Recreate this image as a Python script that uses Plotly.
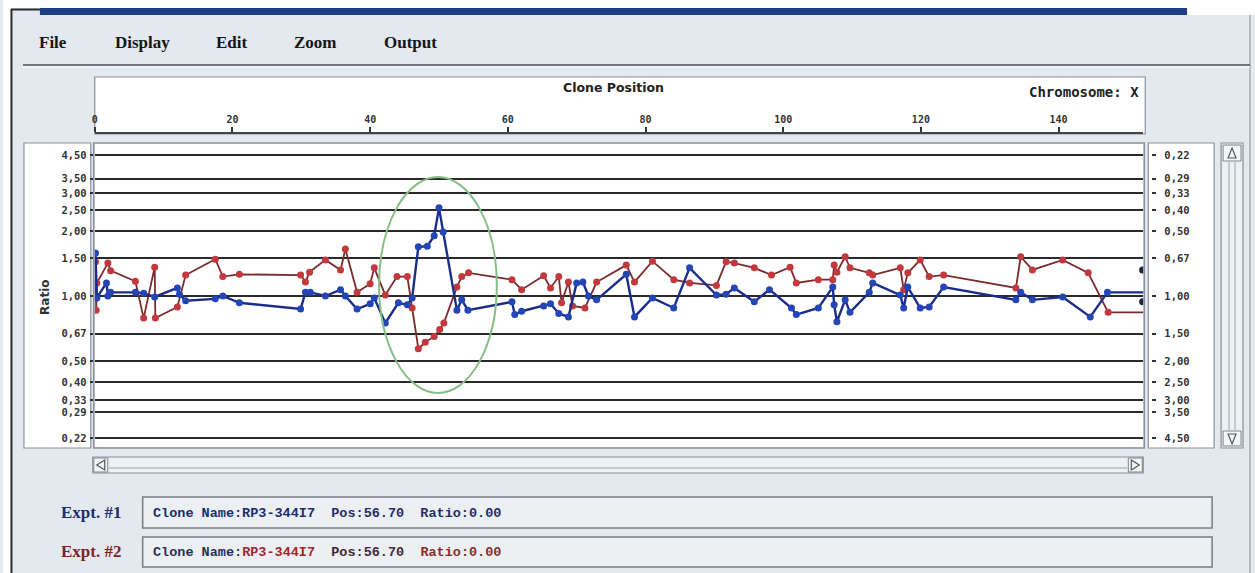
import plotly.graph_objects as go

W, H = 1255, 573


def fx(px):
    return px / W


def fy(py):
    return 1 - py / H


# ---------------- data ----------------
pos_expt1 = [0.1, 0.3, 1.7, 1.9, 2.3, 5.9, 7.1, 8.7, 12.0, 12.3,
             13.2, 17.5, 18.6, 21.0, 29.9, 30.6, 31.3, 33.5, 35.7, 36.4,
             38.1, 40.0, 40.6, 42.2, 44.1, 45.4, 46.1, 47.0, 48.3, 49.3,
             50.0, 50.6, 52.6, 53.3, 54.2, 60.6, 61.0, 62.0, 65.2, 66.2,
             67.4, 68.8, 70.0, 70.9, 71.7, 72.9, 77.2, 78.4, 81.0, 84.1,
             86.4, 90.3, 91.7, 92.9, 95.8, 98.0, 101.2, 101.9, 105.1, 107.2,
             107.4, 107.8, 109.0, 109.7, 112.5, 113.0, 117.0, 117.5, 118.1, 119.9,
             121.2, 123.3, 133.8, 134.5, 136.2, 140.6, 144.6, 147.1, 153.3]
ratio_expt1 = [1.58, 0.98, 1.15, 1.00, 1.04, 1.04, 1.03, 0.99, 1.09, 1.02,
               0.95, 0.97, 1.00, 0.93, 0.87, 1.04, 1.04, 1.00, 1.07, 1.00,
               0.87, 0.92, 0.98, 0.75, 0.93, 0.91, 0.98, 1.69, 1.70, 1.90,
               2.56, 1.98, 0.86, 0.96, 0.86, 0.94, 0.82, 0.85, 0.90, 0.92,
               0.83, 0.80, 1.15, 1.16, 1.00, 0.96, 1.26, 0.80, 0.98, 0.88,
               1.35, 1.01, 1.02, 1.09, 0.94, 1.07, 0.88, 0.82, 0.88, 1.10,
               0.91, 0.76, 0.96, 0.84, 1.04, 1.15, 1.01, 0.88, 1.10, 0.88,
               0.89, 1.10, 0.96, 1.04, 0.96, 0.99, 0.80, 1.04, 1.04]

pos_expt2 = [0.1, 0.2, 0.3, 1.9, 2.3, 5.9, 7.1, 8.7, 8.8, 12.0,
             13.2, 17.5, 18.6, 21.0, 29.9, 30.6, 31.2, 33.5, 35.7, 36.4,
             38.1, 40.0, 40.6, 42.2, 43.9, 45.4, 46.1, 47.0, 48.0, 49.3,
             50.1, 50.7, 52.6, 53.3, 54.3, 60.6, 62.0, 65.2, 66.2, 67.4,
             67.8, 68.8, 69.4, 71.2, 72.9, 77.2, 78.4, 81.0, 84.1, 86.4,
             90.3, 91.7, 92.9, 95.8, 98.3, 101.0, 101.9, 105.1, 107.2, 107.4,
             107.8, 109.0, 109.7, 112.5, 113.0, 117.0, 117.5, 118.1, 119.9, 121.2,
             123.3, 133.8, 134.5, 136.2, 140.6, 144.3, 147.2, 153.3]
ratio_expt2 = [1.44, 0.86, 1.15, 1.42, 1.31, 1.17, 0.79, 1.36, 0.79, 0.89,
               1.25, 1.48, 1.23, 1.26, 1.25, 1.16, 1.29, 1.47, 1.32, 1.65,
               1.04, 1.14, 1.35, 1.01, 1.23, 1.23, 0.88, 0.57, 0.61, 0.65,
               0.70, 0.75, 1.10, 1.23, 1.28, 1.19, 1.07, 1.24, 1.09, 1.23,
               0.93, 1.16, 0.90, 0.88, 1.16, 1.39, 1.16, 1.45, 1.19, 1.15,
               1.12, 1.44, 1.42, 1.35, 1.25, 1.36, 1.15, 1.19, 1.19, 1.39,
               1.29, 1.52, 1.35, 1.28, 1.25, 1.35, 1.07, 1.28, 1.47, 1.23,
               1.25, 1.09, 1.52, 1.32, 1.47, 1.28, 0.84, 0.84]

edge_pos = [152.2, 152.2]
edge_ratio = [1.32, 0.94]

ratio_ticks = [0.22, 0.29, 0.33, 0.40, 0.50, 0.67, 1.00, 1.50, 2.00, 2.50, 3.00, 3.50, 4.50]
ratio_labels = ["0,22", "0,29", "0,33", "0,40", "0,50", "0,67", "1,00",
                "1,50", "2,00", "2,50", "3,00", "3,50", "4,50"]
inverse_labels = list(reversed(ratio_labels))
pos_ticks = [0, 20, 40, 60, 80, 100, 120, 140]
pos_labels = ["0", "20", "40", "60", "80", "100", "120", "140"]
menu_items = ["File", "Display", "Edit", "Zoom", "Output"]
menu_x = [50, 140, 230, 313, 408]

X_RANGE = [0, 152.3]
Y_RANGE = [-0.6993, 0.7086]

BLUE_M = "#2445b5"
BLUE_L = "#1b2d8a"
RED_M = "#c2393d"
RED_L = "#7a2a2c"
UI_BG = "#e4e9ef"
BORDER = "#8a9099"

fig = go.Figure()

fig.add_trace(go.Scatter(
    x=pos_expt2, y=ratio_expt2, mode="lines+markers", name="Expt. #2",
    line=dict(color=RED_L, width=1.8),
    marker=dict(color=RED_M, size=7, symbol="circle"),
    hoverinfo="x+y"))
fig.add_trace(go.Scatter(
    x=pos_expt1, y=ratio_expt1, mode="lines+markers", name="Expt. #1",
    line=dict(color=BLUE_L, width=2.4),
    marker=dict(color=BLUE_M, size=7, symbol="circle"),
    hoverinfo="x+y"))
fig.add_trace(go.Scatter(
    x=edge_pos, y=edge_ratio, mode="markers", name="edge",
    marker=dict(color="#20243f", size=7), hoverinfo="skip"))

# invisible carriers for the secondary axes
fig.add_trace(go.Scatter(x=[pos_ticks[0], pos_ticks[-1]], y=[1, 1], xaxis="x2", yaxis="y",
                         mode="markers", marker=dict(opacity=0), hoverinfo="skip"))
fig.add_trace(go.Scatter(x=[pos_ticks[0], pos_ticks[-1]], y=[1, 1], xaxis="x", yaxis="y2",
                         mode="markers", marker=dict(opacity=0), hoverinfo="skip"))

tick_font = dict(family="DejaVu Sans Mono", size=10.5, color="#333333", weight="bold")

fig.update_layout(
    width=W, height=H, autosize=False,
    margin=dict(l=0, r=0, t=0, b=0),
    paper_bgcolor=UI_BG, plot_bgcolor="white",
    showlegend=False,
    xaxis=dict(domain=[fx(92), fx(1143)], range=X_RANGE, showticklabels=False,
               showgrid=False, zeroline=False, showline=False, ticks="", anchor="y"),
    xaxis2=dict(domain=[fx(92), fx(1143)], range=X_RANGE, overlaying="x", anchor="free",
                position=fy(133), side="top", tickvals=pos_ticks, ticktext=pos_labels,
                ticks="outside", ticklen=5, tickwidth=1.5, tickcolor="#333",
                showline=True, linecolor="#444", linewidth=1.5,
                showgrid=False, zeroline=False, tickfont=dict(tick_font, size=10)),
    yaxis=dict(domain=[fy(447), fy(143)], type="log", range=Y_RANGE,
               tickvals=ratio_ticks, ticktext=ratio_labels, ticks="outside",
               ticklen=4, tickwidth=1.5, tickcolor="#333",
               showgrid=True, gridcolor="#2a2a2a", gridwidth=1.6,
               zeroline=False, showline=False, tickfont=tick_font, anchor="x",
               ticklabelstandoff=1),
    yaxis2=dict(overlaying="y", side="right", anchor="free", position=fx(1151),
                type="log", range=Y_RANGE, tickvals=ratio_ticks, ticktext=inverse_labels,
                ticks="outside", ticklen=4, tickwidth=1.5, tickcolor="#333",
                showgrid=False, zeroline=False, showline=False, tickfont=tick_font,
                ticklabelstandoff=6),
)

shapes = []


def rect(x0, y0, x1, y1, fill=None, line=BORDER, width=1.2, layer="below"):
    shapes.append(dict(type="rect", xref="paper", yref="paper",
                       x0=fx(x0), x1=fx(x1), y0=fy(y1), y1=fy(y0),
                       fillcolor=fill if fill else "rgba(0,0,0,0)",
                       line=dict(color=line if line else "rgba(0,0,0,0)", width=width),
                       layer=layer))


def hline(x0, x1, y, color, width=1.5, layer="below"):
    shapes.append(dict(type="line", xref="paper", yref="paper",
                       x0=fx(x0), x1=fx(x1), y0=fy(y), y1=fy(y),
                       line=dict(color=color, width=width), layer=layer))


def vline(x, y0, y1, color, width=1.5, layer="below"):
    shapes.append(dict(type="line", xref="paper", yref="paper",
                       x0=fx(x), x1=fx(x), y0=fy(y0), y1=fy(y1),
                       line=dict(color=color, width=width), layer=layer))


def tri(points, color="#555"):
    p = "M " + " L ".join(f"{fx(a):.5f},{fy(b):.5f}" for a, b in points) + " Z"
    shapes.append(dict(type="path", xref="paper", yref="paper", path=p,
                       fillcolor="rgba(0,0,0,0)", line=dict(color=color, width=1.2),
                       layer="above"))


# outer white margins & frame
rect(0, 0, 1255, 8, fill="white", line=None, width=0)
rect(0, 0, 8, 573, fill="white", line=None, width=0)
vline(8.5, 9, 573, "#2b2b2b", 2)
hline(8, 37, 9.5, "#2b2b2b", 2)
rect(37, 8, 1187, 15, fill="#1f3d86", line=None, width=0)
rect(1187, 8, 1255, 15, fill="white", line=None, width=0)
vline(1250, 15, 573, "#a6adb5", 1.5)

# menu separator
hline(20, 1250, 65, "#4a4f55", 1.5)
hline(20, 1250, 67, "#ffffff", 1)

# top axis panel
rect(92, 77, 1145, 134, fill="white", line=BORDER, width=1.2)
# left label panel
rect(21, 143, 88, 448, fill="white", line=BORDER, width=1.2)
# right label panel
rect(1148, 143, 1214, 448, fill="white", line=BORDER, width=1.2)
# plot frame
rect(91, 143, 1144, 448, fill=None, line=BORDER, width=1.6, layer="above")

# vertical scrollbar
rect(1221, 143, 1243, 448, fill="#eef1f4", line=BORDER, width=1.2)
vline(1229, 162, 430, "#9aa1a9", 1)
vline(1235, 162, 430, "#9aa1a9", 1)
rect(1223, 145, 1241, 161, fill="#f4f6f8", line="#7d848c", width=1)
rect(1223, 431, 1241, 446, fill="#f4f6f8", line="#7d848c", width=1)
tri([(1228, 158), (1232, 148), (1236, 158)])
tri([(1228, 434), (1236, 434), (1232, 444)])

# horizontal scrollbar
rect(90, 457, 1143, 473, fill="#eef1f4", line=BORDER, width=1.2)
hline(106, 1127, 468, "#9aa1a9", 1)
rect(91, 458, 105, 472, fill="#f4f6f8", line="#7d848c", width=1)
rect(1128, 458, 1142, 472, fill="#f4f6f8", line="#7d848c", width=1)
tri([(102, 460), (94, 465), (102, 470)])
tri([(1131, 460), (1139, 465), (1131, 470)])

# text fields
rect(140, 497, 1212, 528, fill="#edf0f3", line="#767c84", width=1.5)
rect(140, 537, 1212, 567, fill="#edf0f3", line="#767c84", width=1.5)

# highlight ellipse
shapes.append(dict(type="circle", xref="paper", yref="paper",
                   x0=fx(377), x1=fx(495), y0=fy(393), y1=fy(177),
                   line=dict(color="#86bf86", width=2), layer="above"))

fig.update_layout(shapes=shapes)

ann = []
for name, mx in zip(menu_items, menu_x):
    ann.append(dict(text=name, x=fx(mx), y=fy(43), xref="paper", yref="paper",
                    showarrow=False, xanchor="center", yanchor="middle",
                    font=dict(family="Liberation Serif", size=17, color="#151515", weight="bold")))

ann.append(dict(text="Clone Position", x=fx(612), y=fy(88), xref="paper", yref="paper",
                showarrow=False, xanchor="center", yanchor="middle",
                font=dict(family="DejaVu Sans", size=12.5, color="#222", weight="bold")))
ann.append(dict(text="Chromosome: X", x=fx(1141), y=fy(92), xref="paper", yref="paper",
                showarrow=False, xanchor="right", yanchor="middle",
                font=dict(family="DejaVu Sans Mono", size=14, color="#222", weight="bold")))
ann.append(dict(text="Ratio", x=fx(42), y=fy(297), xref="paper", yref="paper",
                showarrow=False, textangle=-90, xanchor="center", yanchor="middle",
                font=dict(family="DejaVu Sans", size=12, color="#333", weight="bold")))

ann.append(dict(text="Expt. #1", x=fx(88), y=fy(512), xref="paper", yref="paper",
                showarrow=False, xanchor="center", yanchor="middle",
                font=dict(family="Liberation Serif", size=17, color="#1d2d6b", weight="bold")))
ann.append(dict(text="Expt. #2", x=fx(88), y=fy(551), xref="paper", yref="paper",
                showarrow=False, xanchor="center", yanchor="middle",
                font=dict(family="Liberation Serif", size=17, color="#7b2424", weight="bold")))

sp = "\u00a0\u00a0"
ann.append(dict(text="Clone Name:RP3-344I7" + sp + "Pos:56.70" + sp + "Ratio:0.00",
                x=fx(148), y=fy(513), xref="paper", yref="paper",
                showarrow=False, xanchor="left", yanchor="middle",
                font=dict(family="Liberation Mono", size=13.5, color="#1d2d6b", weight="bold")))
ann.append(dict(text=("<span style='color:#2b2f55'>Clone Name:</span>"
                      "<span style='color:#a3262a'>RP3-344I7</span>" + sp +
                      "<span style='color:#3a2a3a'>Pos:56.70</span>" + sp +
                      "<span style='color:#8a2a2a'>Ratio:0.00</span>"),
                x=fx(148), y=fy(552), xref="paper", yref="paper",
                showarrow=False, xanchor="left", yanchor="middle",
                font=dict(family="Liberation Mono", size=13.5, color="#7b2424", weight="bold")))

fig.update_layout(annotations=ann)

fig.write_html("out.html", config={"displayModeBar": False},
               post_script="document.body.style.margin='0';document.body.style.overflow='hidden';")
